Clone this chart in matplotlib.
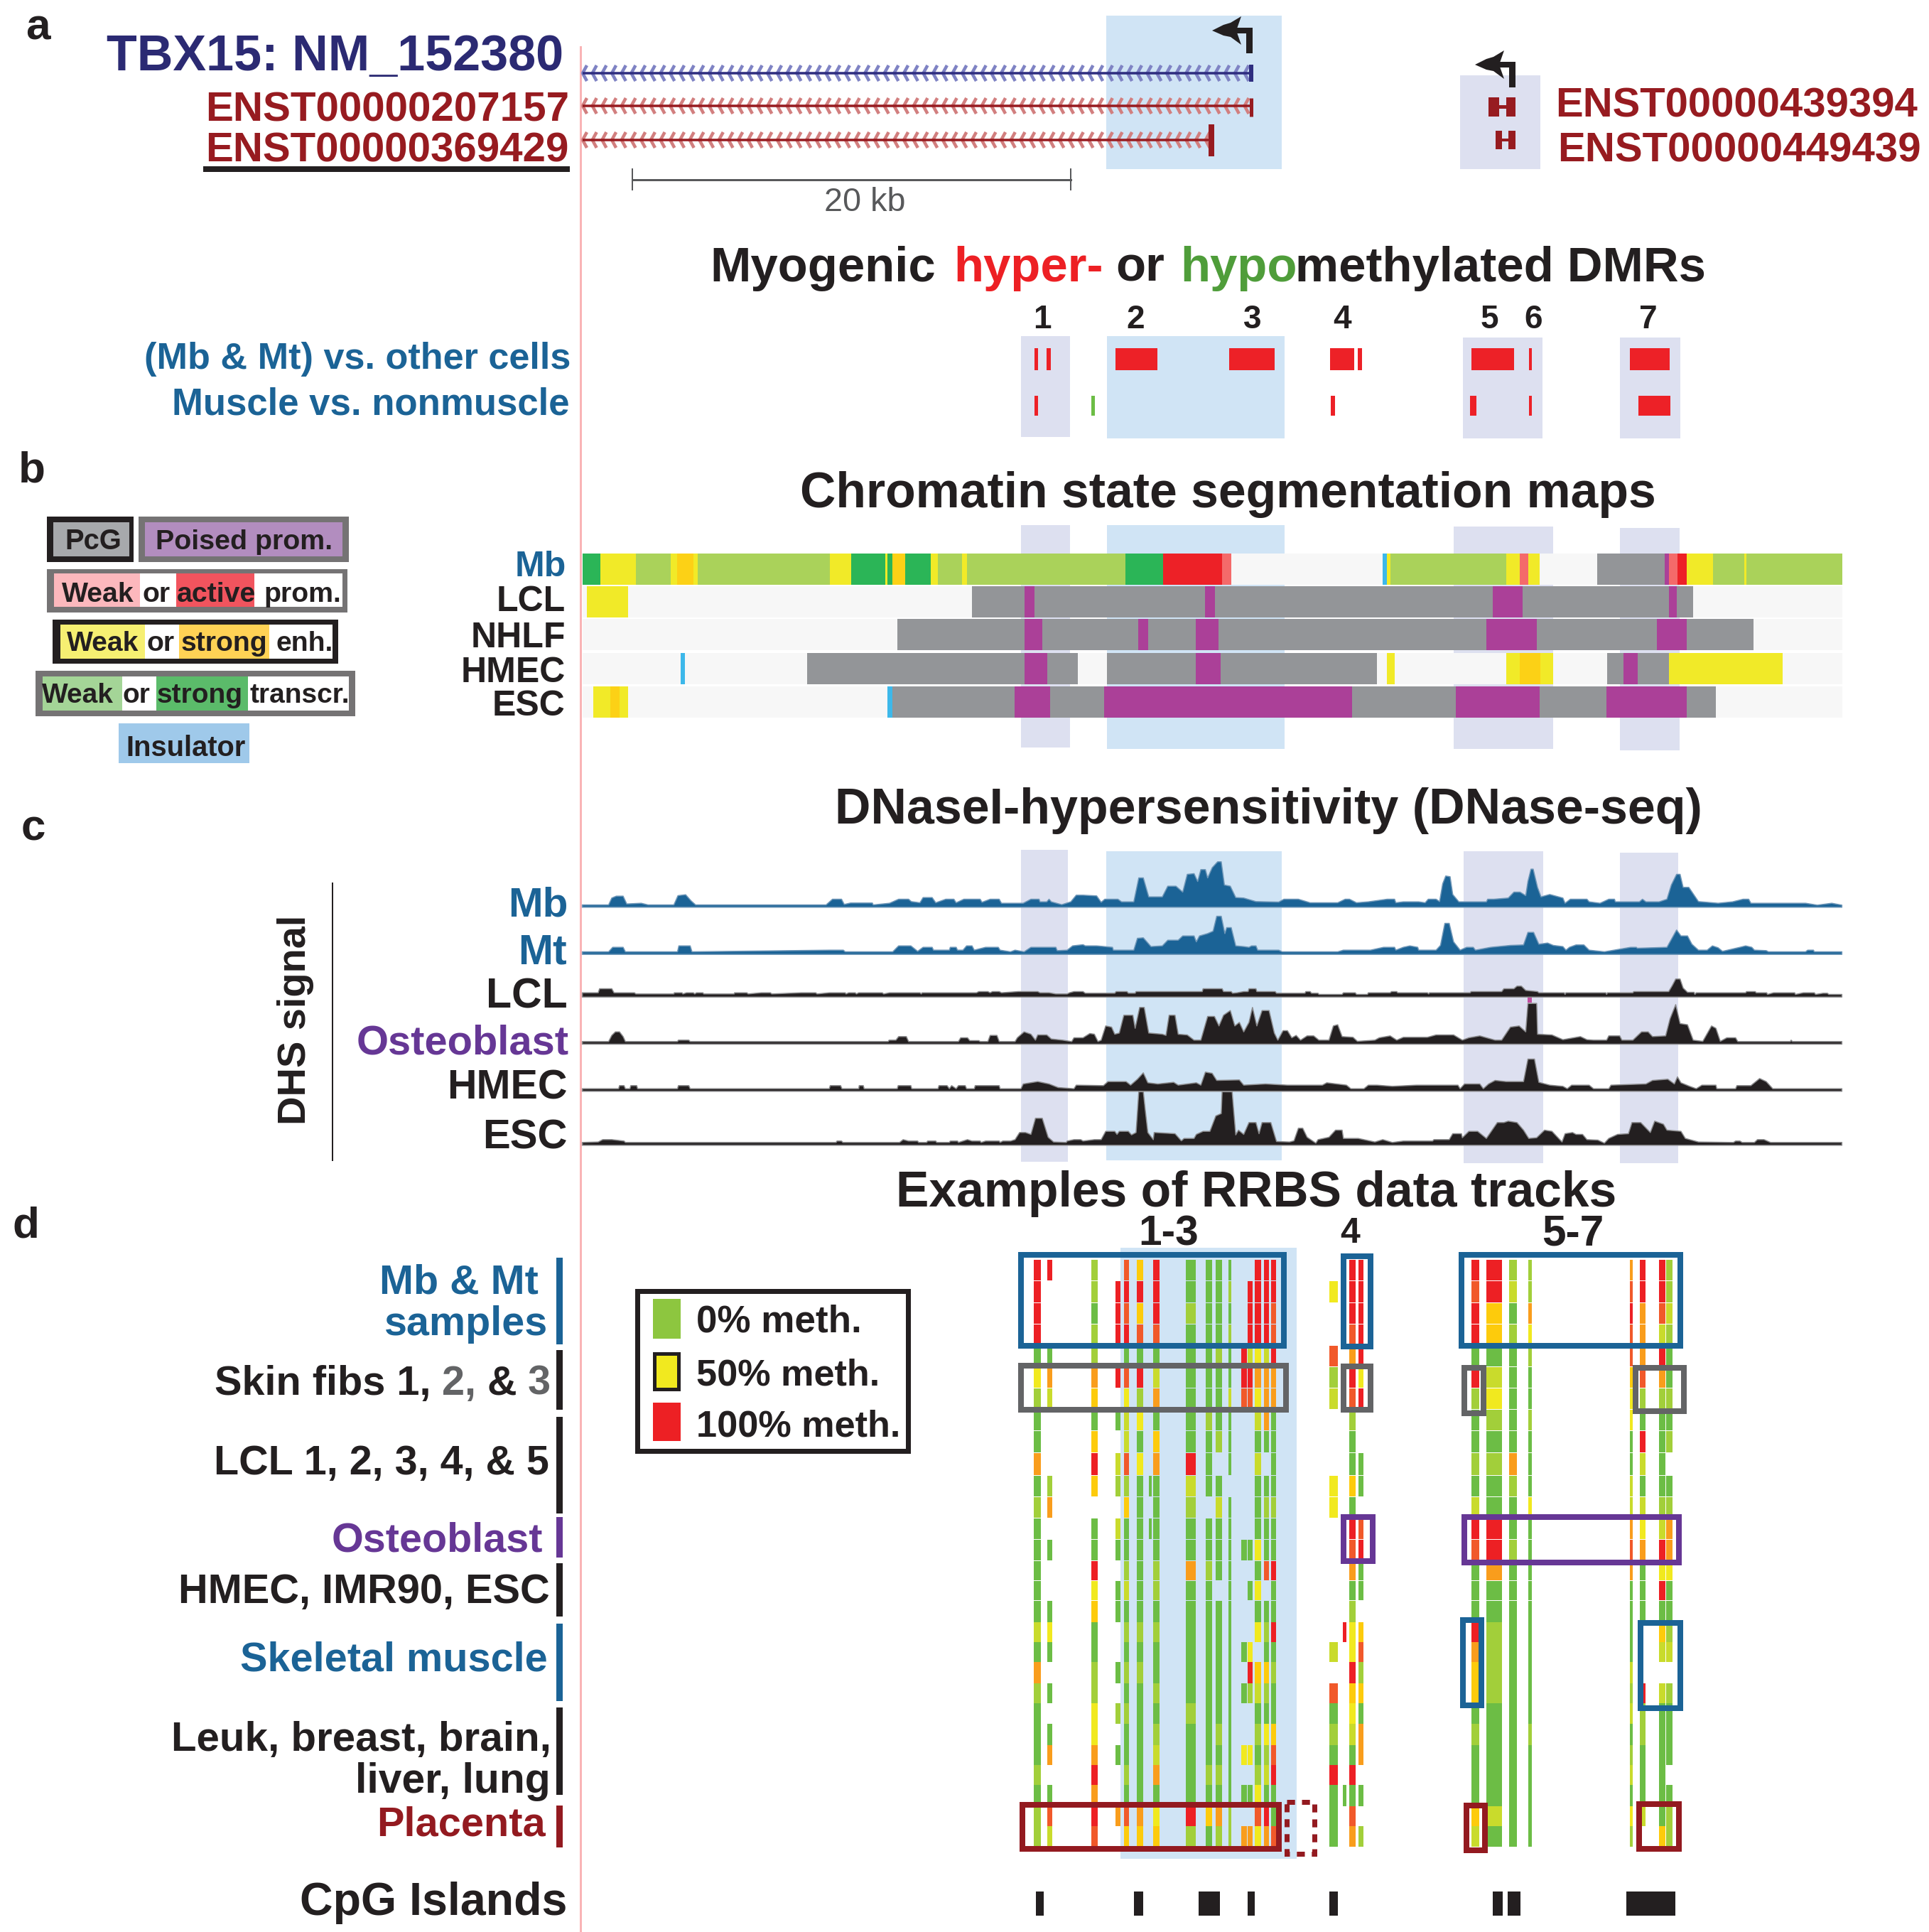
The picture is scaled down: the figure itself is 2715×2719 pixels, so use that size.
# Re-create the TBX15 multi-track figure (genes, DMRs, chromatin, DHS, RRBS)
import matplotlib
matplotlib.use("Agg")
import matplotlib.pyplot as plt
from matplotlib.collections import LineCollection
from matplotlib.font_manager import FontProperties
from matplotlib.patches import Polygon, Rectangle
from matplotlib.textpath import TextPath
import numpy as np

# ------------------ Data: DMRs (track position) ------------------
dmr_numbers = ["1", "2", "3", "4", "5", "6", "7"]
dmr_number_pos = [1467, 1598, 1763, 1889, 2097, 2158, 2320]
dmr_row1 = [(1456, 1461, "r"), (1473, 1479, "r"), (1570, 1629, "r"), (1730, 1794, "r"), (1872, 1906, "r"),
            (1911, 1917, "r"), (2071, 2131, "r"), (2152, 2156, "r"), (2294, 2350, "r")]
dmr_row2 = [(1456, 1461, "r"), (1536, 1541, "g"), (1873, 1879, "r"), (2069, 2078, "r"),
            (2152, 2156, "r"), (2306, 2351, "r")]

# ------------------ Data: chromatin states ------------------
chrom_mb = [(820, 845, "T"), (845, 895, "Y"), (895, 944, "t"), (944, 953, "Y"), (953, 976, "E"), (976, 982, "Y"),
            (982, 1168, "t"), (1168, 1198, "Y"), (1198, 1246, "T"), (1246, 1249, "Y"), (1249, 1256, "T"),
            (1256, 1274, "E"), (1274, 1310, "T"), (1310, 1320, "Y"), (1320, 1354, "t"), (1354, 1361, "Y"),
            (1361, 1584, "t"), (1584, 1637, "T"), (1637, 1720, "R"), (1720, 1733, "S"), (1946, 1952, "I"),
            (1952, 1957, "Y"), (1957, 2120, "t"), (2120, 2139, "Y"), (2139, 2151, "S"), (2151, 2167, "Y"),
            (2248, 2343, "P"), (2343, 2349, "M"), (2349, 2361, "S"), (2361, 2374, "R"), (2374, 2411, "Y"),
            (2411, 2455, "t"), (2455, 2458, "Y"), (2458, 2593, "t")]
chrom_lcl = [(826, 884, "Y"), (1368, 1442, "P"), (1442, 1456, "M"), (1456, 1696, "P"), (1696, 1710, "M"),
             (1710, 2101, "P"), (2101, 2143, "M"), (2143, 2349, "P"), (2349, 2360, "M"), (2360, 2383, "P")]
chrom_nhlf = [(1263, 1442, "P"), (1442, 1467, "M"), (1467, 1602, "P"), (1602, 1616, "M"), (1616, 1683, "P"),
              (1683, 1715, "M"), (1715, 2092, "P"), (2092, 2163, "M"), (2163, 2332, "P"), (2332, 2374, "M"),
              (2374, 2468, "P")]
chrom_hmec = [(958, 964, "I"), (1136, 1442, "P"), (1442, 1474, "M"), (1474, 1517, "P"), (1558, 1683, "P"),
              (1683, 1718, "M"), (1718, 1938, "P"), (1952, 1963, "Y"), (2120, 2139, "Y"), (2139, 2168, "E"),
              (2168, 2186, "Y"), (2262, 2285, "P"), (2285, 2305, "M"), (2305, 2349, "P"), (2349, 2509, "Y")]
chrom_esc = [(835, 859, "Y"), (859, 872, "E"), (872, 884, "Y"), (1249, 1256, "I"), (1256, 1428, "P"),
             (1428, 1478, "M"), (1478, 1554, "P"), (1554, 1903, "M"), (1903, 2049, "P"), (2049, 2167, "M"),
             (2167, 2261, "P"), (2261, 2374, "M"), (2374, 2415, "P")]
chrom_labels = ["Mb", "LCL", "NHLF", "HMEC", "ESC"]

mb_a = [(30,279),(88,279),(95,250),(105,242),(120,242),(128,275),(160,272),(175,279),(232,279),(241,240),(258,236),
        (270,262),(280,279),(568,279),(582,255),(602,255),(608,277),(622,271),(670,271),(672,279),(708,272),(728,255),
        (750,255),(756,265),(775,270),(782,248),(802,248),(810,270),(832,255),(850,255),(855,270),(872,255),(908,255),
        (912,268),(930,255),(950,255),(955,272),(1003,272),(1020,255),(1038,255),(1040,266),(1055,266),(1060,255),
        (1065,266),(1088,278),(1108,266),(1120,238),(1135,238),(1165,241),(1175,268),(1183,255),(1212,255),(1220,266),
        (1247,266),(1258,165),(1268,165),(1280,245),(1310,245),(1322,200),(1340,200),(1355,225),(1365,150),(1380,147),
        (1388,180),(1395,130),(1405,130),(1410,165),(1420,122),(1432,97),(1440,97),(1447,195),(1460,200),(1472,248)]
mb_b = [(0,250),(28,265),(80,267),(92,255),(125,255),(152,270),(215,270),(232,255),(242,255),(258,270),(285,266),
        (328,255),(345,255),(348,270),(365,266),(400,266),(415,270),(422,255),(440,255),(448,265),(455,190),(462,157),
        (472,160),(478,235),(492,266),(555,266),(558,255),(572,255),(605,250),(618,225),(632,225),(645,240),(650,180),
        (657,128),(662,128),(672,205),(680,245),(700,235),(730,250),(735,272),(747,255),(785,255),(790,266),(815,272),
        (835,255),(848,255),(850,266),(905,266),(912,255),(920,266),(950,266),(968,255),(978,195),(990,150),(998,150),
        (1005,205),(1018,205),(1040,265),(1085,272),(1118,266),(1142,255),(1155,255),(1160,272),(1265,272),(1285,272),
        (1312,280),(1345,272),(1368,280)]
mt_a = [(30,477),(88,477),(97,458),(120,458),(125,477),(240,477),(243,452),(268,452),(272,477),(578,470),(606,470),
        (610,477),(715,477),(728,452),(755,452),(770,475),(782,458),(802,458),(805,470),(840,470),(842,458),(855,458),
        (858,470),(870,470),(878,452),(890,452),(895,470),(920,458),(948,458),(952,470),(975,477),(985,470),(1005,477),
        (1020,458),(1045,458),(1075,458),(1078,472),(1100,470),(1112,452),(1135,447),(1140,452),(1165,452),(1200,458),
        (1202,470),(1247,470),(1255,420),(1268,418),(1285,455),(1310,452),(1322,428),(1345,428),(1355,410),(1380,410),
        (1385,435),(1392,410),(1410,400),(1422,390),(1430,327),(1440,327),(1448,400),(1452,375),(1462,375),(1472,452)]
mt_b = [(0,455),(12,458),(18,452),(28,452),(32,470),(80,470),(88,477),(215,477),(228,470),(290,470),(320,458),(345,458),
        (348,470),(365,458),(380,452),(398,458),(400,470),(440,470),(450,450),(460,357),(470,357),(480,435),(495,470),
        (510,458),(525,458),(530,470),(565,458),(610,450),(640,448),(650,395),(663,395),(675,445),(695,440),(708,450),
        (730,455),(737,470),(745,458),(760,448),(778,448),(790,470),(825,477),(885,458),(898,458),(900,462),(968,458),
        (990,385),(1000,410),(1015,410),(1025,445),(1040,470),(1060,470),(1072,452),(1085,460),(1095,475),(1135,458),
        (1148,452),(1162,458),(1168,470),(1195,472),(1200,477),(1285,477),(1290,470),(1303,470),(1305,477),(1368,477)]
lcl_a = [(30,650),(65,650),(68,633),(95,633),(100,650),(145,650),(148,655),(232,655),(233,650),(250,650),(252,655),
         (260,650),(275,650),(278,655),(282,650),(296,650),(298,655),(365,655),(366,650),(393,650),(396,655),(425,650),
         (445,650),(448,655),(513,650),(545,650),(548,655),(575,650),(610,650),(612,655),(618,650),(632,650),(635,655),
         (640,650),(692,650),(695,655),(708,650),(775,650),(778,655),(780,650),(900,650),(905,645),(925,645),(930,650),
         (935,645),(950,645),(955,650),(992,645),(1035,645),(1040,650),(1060,650),(1075,655),(1100,655),(1105,650),
         (1115,645),(1135,645),(1140,652),(1205,652),(1208,645),(1232,645),(1235,652),(1250,652),(1252,645),(1398,645),
         (1400,633),(1442,633),(1445,645),(1462,645),(1465,652),(1475,650)]
lcl_b = [(0,645),(10,645),(12,633),(28,633),(30,645),(72,645),(75,652),(140,652),(142,645),(152,645),(155,652),(170,652),
         (172,657),(225,657),(228,650),(255,650),(258,657),(283,657),(285,650),(335,650),(338,645),(350,645),(352,650),
         (420,650),(423,655),(425,650),(518,650),(520,645),(590,645),(595,633),(618,633),(625,622),(635,622),(645,640),
         (672,645),(675,650),(733,650),(735,657),(737,650),(828,650),(830,657),(832,650),(890,650),(892,645),(972,645),
         (980,620),(988,592),(998,592),(1005,630),(1015,648),(1030,648),(1032,657),(1035,650),(1148,650),(1150,645),
         (1170,645),(1172,650),(1196,650),(1198,657),(1212,650),(1260,650),(1262,657),(1280,650),(1305,650),(1308,657),
         (1325,652),(1335,652),(1338,657),(1368,657)]
ost_a = [(30,856),(88,856),(95,830),(103,815),(112,815),(120,835),(125,856),(240,856),(242,850),(265,850),(268,856),
         (705,856),(707,850),(722,850),(728,835),(745,835),(750,856),(860,856),(865,840),(880,840),(885,852),(905,852),
         (908,856),(925,856),(930,830),(945,830),(950,856),(985,856),(990,840),(1005,815),(1020,825),(1030,850),(1035,828),
         (1055,828),(1065,845),(1090,850),(1110,856),(1115,840),(1135,840),(1150,822),(1160,825),(1168,856),(1175,850),
         (1185,790),(1198,795),(1205,825),(1215,820),(1225,745),(1245,745),(1250,800),(1260,712),(1270,712),(1280,820),
         (1310,825),(1318,830),(1325,745),(1338,745),(1345,825),(1365,828),(1380,850),(1395,850),(1410,750),(1425,750),
         (1435,790),(1445,745),(1460,725),(1470,790),(1480,775)]
ost_b = [(0,815),(12,775),(20,712),(30,790),(42,725),(58,725),(70,820),(78,850),(90,810),(100,810),(110,840),(120,830),
         (130,850),(145,832),(160,832),(172,850),(195,850),(205,790),(215,785),(225,835),(250,838),(260,855),(300,850),
         (310,840),(335,832),(350,850),(365,838),(395,838),(420,838),(440,828),(480,828),(500,850),(515,840),(540,832),
         (575,850),(590,850),(610,795),(630,790),(645,815),(650,695),(670,695),(672,825),(705,828),(730,848),(770,835),
         (785,848),(800,850),(830,850),(835,832),(860,832),(865,850),(890,850),(910,815),(925,815),(935,835),(965,832),
         (975,760),(988,700),(998,780),(1015,785),(1028,850),(1050,855),(1070,790),(1080,800),(1090,855),(1105,840),
         (1125,840),(1130,856),(1250,856),(1252,850),(1255,856),(1368,856)]
hmec_a = [(30,1055),(110,1055),(112,1042),(122,1042),(125,1055),(135,1055),(137,1042),(150,1042),(152,1055),(240,1055),
          (242,1042),(265,1042),(268,1055),(575,1055),(577,1042),(600,1042),(603,1055),(640,1055),(641,1042),(650,1042),
          (652,1055),(725,1055),(727,1042),(755,1042),(757,1055),(815,1055),(817,1042),(835,1042),(840,1055),(845,1042),
          (855,1055),(860,1042),(875,1042),(878,1055),(895,1055),(897,1042),(950,1042),(952,1055),(998,1055),(1003,1035),
          (1035,1025),(1060,1035),(1080,1050),(1115,1055),(1120,1040),(1180,1042),(1190,1025),(1230,1025),(1240,1040),
          (1255,1015),(1268,988),(1278,1030),(1300,1035),(1335,1028),(1345,1040),(1385,1030),(1395,1040),(1405,985),
          (1420,990),(1430,1020),(1480,1018)]
hmec_b = [(0,1040),(50,1035),(100,1040),(180,1040),(190,1030),(235,1040),(245,1055),(275,1055),(285,1040),(305,1040),
          (340,1045),(395,1040),(440,1040),(490,1040),(495,1055),(505,1035),(540,1035),(548,1055),(560,1035),(575,1020),
          (600,1025),(640,1025),(650,930),(665,930),(675,1028),(700,1040),(730,1045),(740,1055),(750,1040),(790,1040),
          (800,1055),(835,1055),(840,1040),(920,1035),(935,1020),(970,1015),(985,1035),(992,1005),(1000,1030),(1020,1045),
          (1035,1055),(1048,1040),(1080,1040),(1082,1055),(1125,1055),(1128,1042),(1160,1042),(1180,1012),(1195,1025),
          (1210,1055),(1368,1055)]
esc_a = [(30,1282),(65,1280),(75,1270),(95,1270),(122,1276),(125,1282),(590,1282),(592,1276),(602,1276),(605,1282),
         (730,1282),(738,1270),(750,1276),(770,1276),(772,1282),(790,1282),(792,1276),(810,1276),(812,1282),(840,1282),
         (842,1276),(858,1276),(860,1282),(870,1276),(880,1270),(890,1276),(908,1276),(910,1282),(920,1276),(950,1276),
         (952,1282),(958,1276),(975,1276),(985,1270),(995,1240),(1008,1240),(1020,1248),(1030,1180),(1045,1180),(1058,1260),
         (1070,1280),(1098,1282),(1100,1276),(1115,1270),(1130,1270),(1135,1276),(1160,1270),(1175,1270),(1185,1235),
         (1205,1235),(1210,1248),(1215,1235),(1235,1235),(1242,1250),(1252,1240),(1258,1068),(1268,1068),(1272,1140),
         (1278,1240),(1290,1270),(1292,1240),(1338,1245),(1352,1275),(1358,1265),(1380,1265),(1385,1248),(1400,1235),
         (1415,1235),(1428,1170),(1440,1160),(1442,1068),(1464,1068),(1468,1160),(1472,1250),(1478,1230)]
esc_b = [(0,1248),(12,1198),(28,1198),(35,1245),(42,1198),(62,1198),(75,1278),(105,1280),(115,1275),(125,1222),(135,1222),
         (145,1260),(165,1285),(170,1270),(195,1260),(210,1230),(225,1230),(228,1265),(262,1265),(300,1280),(318,1270),
         (340,1282),(365,1276),(432,1276),(435,1270),(470,1270),(478,1245),(498,1245),(500,1262),(515,1235),(535,1235),
         (555,1265),(580,1198),(595,1198),(605,1192),(625,1198),(640,1230),(652,1265),(670,1262),(688,1230),(705,1235),
         (728,1280),(735,1245),(752,1240),(760,1248),(775,1248),(785,1270),(810,1272),(825,1285),(835,1265),(855,1248),
         (880,1245),(888,1198),(908,1198),(930,1240),(940,1192),(960,1205),(968,1230),(1000,1235),(1010,1265),(1040,1280),
         (1120,1282),(1125,1276),(1135,1276),(1140,1282),(1168,1282),(1175,1270),(1190,1270),(1205,1282),(1368,1282)]
dhs_labels = ["Mb", "Mt", "LCL", "Osteoblast", "HMEC", "ESC"]

# ------------------ Data: RRBS, one call per sample row ------------------
rrbs_row_tops = [1773, 1803, 1834, 1864, 1894, 1924, 1954, 1984, 2014, 2045, 2077, 2107, 2137, 2167, 2197, 2225,
                 2253, 2283, 2311, 2339, 2369, 2397, 2426, 2456, 2484, 2512, 2542, 2570, 2599]
rrbs_starts = [1455, 1474, 1536, 1570, 1582, 1600, 1617, 1623, 1669, 1697, 1711, 1729, 1747, 1756, 1766, 1779, 1789,
               1871, 1890, 1899, 1912, 2071, 2092, 2124, 2151, 2294, 2308, 2335, 2345]
rrbs_ends = [1465, 1481, 1545, 1577, 1589, 1609, 1621, 1632, 1683, 1706, 1720, 1733, 1755, 1763, 1775, 1786, 1796,
             1883, 1895, 1908, 1919, 2082, 2114, 2135, 2156, 2298, 2316, 2344, 2354]
rrbs_calls = [
    "RRRRGYgGGoGgGGGGGlGogGGGgGgg",
    "R...Gol...go.G..GYG.G.Go.GOl",
    "ggGggoaGaRa.GGRYaGGggYYoRoRO",
    ".RRR.R.G.lg.lG.GG..G.g.G..o.",
    "ORORGOYllOgaGGglGgGgGgGGgGOa",
    "aRaOGRgYGYGGGGGGGgGgGGGGGGoa",
    "..........G.G...............",
    "RRROGloGaoGGGGggGgGGgGgloGYa",
    "GGgGGGGGGRlgGGoGGGGGGgGGGGRg",
    "GGGGGGGgGGG.GGgGGGGGGGGGgGaG",
    "GGGGgGGGg.GlGGG.GGGGGGgGgGog",
    "GgGgGGlGGG.GGGGGGGGGGGGGGGgg",
    "....RRO......G....G.G..Y.G.o",
    ".RRRlRO......G.G..YRg..Y.G.o",
    "RRRRYoYlGlGGGYGYGY.alGgGgYOY",
    "RRRRloooG.GgGGO.GgGagGYglGRo",
    "RROORooGGGGgGGRGGRGgGGaORGGO",
    ".Y..Ogl...YY......l.OGgGRGGG",
    ".................R.......G..",
    "RRROoROgGGaGROoGgYYRaYlGRGOo",
    "RRRRRYR..GG.ORGG.aOgaGoo.G.g",
    "RORRGRgGGgGlROGGGRoaaGgGGGal",
    "RRaaGlYgGgGGRRoGGggggGGGGGlG",
    "glGgGGGGGogGGgGGGGGGGGGGGGGG",
    "ggoYgGGgGGGYGGGGGGGGGGgGGGGG",
    "oOROOaYYGGlloOoGGGGlglGglGYg",
    "RRoooOgGRlGlYoGGG...RggGGGl.",
    "RROlRogGGGGglRYRGal.lGGGGGGa",
    "gglgGGgGg.GgooYGGgl.gGGG.Ggg",
]
cpg_starts = [1458, 1596, 1687, 1756, 1871, 2101, 2122, 2289]
cpg_ends = [1469, 1609, 1717, 1766, 1883, 2115, 2140, 2358]

# ------------------ Colours ------------------
INK = "#231f20"
BLUE = "#1b6396"
PURPLE = "#663795"
GRAY = "#636466"
DARKRED = "#931a20"
ENST = "#971b20"
LAV = "#dde0f0"
SKY = "#d0e4f5"
state_colors = {"T": "#2bb557", "t": "#aad25a", "Y": "#f1ea28", "E": "#fcd116", "R": "#ed2127", "S": "#f46a6a",
                "P": "#939598", "M": "#ab4098", "I": "#3db8ea", "r": "#ed2127", "g": "#6cbd45"}
meth_colors = {"R": "#ed2024", "O": "#f1592a", "o": "#f99d1c", "a": "#fdcb0c", "Y": "#f1e91f",
               "l": "#c9db2c", "g": "#a2cf3a", "G": "#6cbd45"}

# ------------------ Canvas, units are reference pixels ------------------
fig = plt.figure(figsize=(27.15, 27.19), dpi=100)
ax = fig.add_axes([0, 0, 1, 1])
ax.set_xlim(0, 2715)
ax.set_ylim(2719, 0)
ax.axis("off")


def px(w):
    return w * 0.72


def box(x0, x1, y0, y1, color, z=1):
    ax.add_patch(Rectangle((x0, y0), x1 - x0, y1 - y0, facecolor=color, edgecolor="none", zorder=z))


def frame(x0, x1, y0, y1, color, lw=8, ls="-", z=6):
    ax.add_patch(Rectangle((x0 + lw / 2, y0 + lw / 2), x1 - x0 - lw, y1 - y0 - lw, fill=False, edgecolor=color,
                           linewidth=px(lw), linestyle=ls, zorder=z, joinstyle="miter"))


def em_width(s, weight="bold"):
    fp = FontProperties(family="Liberation Sans", weight=weight)
    return TextPath((0, 0), s, size=1, prop=fp).get_extents().width


def put(s, x0, yc, size, color=INK, weight="bold", rotation=0):
    ax.text(x0, yc + 0.358 * size, s, fontsize=px(size), color=color, family="Liberation Sans", weight=weight,
            ha="left", va="baseline", rotation=rotation, zorder=8)


def fit(s, x0, x1, yc, color=INK, weight="bold"):
    put(s, x0, yc, (x1 - x0) / em_width(s, weight), color, weight)


def runs(parts, starts, x1, yc, colors):
    # one size for the whole line, fragments sit at their own start
    size = (x1 - starts[0]) / em_width(" ".join(parts))
    for s, x0, c in zip(parts, starts, colors):
        put(s, x0, yc, size, c)


def segments(rows, y0, y1, palette, z=3):
    for s, e, k in rows:
        ax.bar(s, y1 - y0, width=e - s, bottom=y0, align="edge", color=palette[k], linewidth=0, zorder=z)


# ------------------ Shaded regions ------------------
for x0, x1, y0, y1, c in [
    (1557, 1804, 22, 238, SKY), (2055, 2168, 106, 238, LAV),
    (1437, 1506, 473, 615, LAV), (1558, 1808, 473, 617, SKY), (2059, 2171, 475, 617, LAV), (2280, 2365, 475, 617, LAV),
    (1437, 1506, 739, 1052, LAV), (1558, 1808, 739, 1054, SKY), (2046, 2186, 741, 1054, LAV), (2280, 2364, 743, 1056, LAV),
    (1437, 1503, 1196, 1635, LAV), (1557, 1804, 1198, 1633, SKY), (2060, 2172, 1198, 1637, LAV), (2280, 2362, 1200, 1637, LAV),
    (1577, 1825, 1756, 2616, SKY),
]:
    box(x0, x1, y0, y1, c)
box(815.5, 818.5, 65, 2719, "#f9b4b6", z=2)

# ------------------ Panel letters ------------------
for s, x, y in [("a", 36, 33), ("b", 26, 656), ("c", 30, 1160), ("d", 18, 1719)]:
    put(s, x, y, 62, INK)

# ------------------ a: gene models ------------------
genes = [(103, 1761, "#7f83c4", "#2e2d7f", 91, 115, 6), (149, 1761, "#d27f7f", ENST, 138, 164, 5),
         (197, 1705, "#d27f7f", ENST, 175, 220, 8)]
for y, end, light, dark, t0, t1, tw in genes:
    chev = [[(x + 6, y - 11), (x, y), (x + 6, y + 11)] for x in np.arange(820, end - 4, 13.7)]
    ax.add_collection(LineCollection(chev, colors=light, linewidths=px(4.5), zorder=3))
    ax.plot([820, end], [y, y], color=dark, lw=px(3.5), solid_capstyle="butt", zorder=4)
    ax.plot([end, end], [t0, t1], color=dark, lw=px(tw), solid_capstyle="butt", zorder=4)
for dx, dy in [(0, 0), (370, 48)]:
    head = [(1706, 43), (1722, 35), (1732, 32), (1747, 23), (1740, 43), (1747, 63), (1732, 52), (1722, 50)]
    ax.add_patch(Polygon([(x + dx, y + dy) for x, y in head], facecolor=INK, edgecolor="none", zorder=5))
    box(1735 + dx, 1763 + dx, 39 + dy, 47 + dy, INK, z=5)
    box(1754 + dx, 1763 + dx, 39 + dy, 75 + dy, INK, z=5)
for x0, x1, y0, y1 in [(2095, 2110, 137, 164), (2120, 2133, 137, 164), (2105, 2114, 184, 210), (2123, 2133, 184, 210)]:
    box(x0, x1, y0, y1, ENST, z=4)
box(2095, 2133, 148, 153, ENST, z=4)
box(2105, 2133, 195, 199, ENST, z=4)

fit("TBX15: NM_152380", 150, 790, 74, "#2b2a73")
fit("ENST00000207157", 289, 795, 150, ENST)
fit("ENST00000369429", 289, 795, 207, ENST)
box(286, 802, 234, 242, INK)
fit("ENST00000439394", 2189, 2694, 144, ENST)
fit("ENST00000449439", 2192, 2698, 207, ENST)
ax.plot([890, 1507], [253, 253], color="#58595b", lw=px(3), zorder=4)
ax.plot([890, 890], [238, 267], color="#58595b", lw=px(2), zorder=4)
ax.plot([1507, 1507], [238, 267], color="#58595b", lw=px(2), zorder=4)
fit("20 kb", 1160, 1270, 280, "#58595b", "normal")

# ------------------ DMRs ------------------
runs(["Myogenic", "hyper-", "or", "hypo", "methylated DMRs"], [999, 1342, 1570, 1661, 1823], 2407, 371,
     [INK, "#ed2024", INK, "#4f9d3a", INK])
for s, x in zip(dmr_numbers, dmr_number_pos):
    put(s, x - 13, 446, 46, INK)
fit("(Mb & Mt) vs. other cells", 203, 800, 500, BLUE)
fit("Muscle vs. nonmuscle", 242, 796, 565, BLUE)
segments(dmr_row1, 490, 521, state_colors)
segments(dmr_row2, 557, 585, state_colors)

# ------------------ b: chromatin legend ------------------
box(66, 188, 727, 791, INK, 2)
box(75, 182, 735, 783, "#a7a9ac", 3)
box(195, 491, 727, 791, "#757374", 2)
box(204, 482, 735, 783, "#b28dbf", 3)
box(66, 489, 801, 862, "#757374", 2)
box(76, 482, 807, 854, "white", 3)
box(76, 197, 807, 854, "#fcb8bd", 4)
box(248, 358, 807, 854, "#f1545e", 4)
box(74, 476, 872, 934, INK, 2)
box(85, 468, 879, 927, "white", 3)
box(85, 204, 879, 927, "#f6ef72", 4)
box(252, 379, 879, 927, "#ffd255", 4)
box(50, 500, 944, 1008, "#757374", 2)
box(60, 491, 952, 1000, "white", 3)
box(60, 172, 952, 1000, "#a4d597", 4)
box(220, 349, 952, 1000, "#5bbb6a", 4)
box(167, 351, 1018, 1074, "#9fc9ea", 2)
fit("PcG", 91, 166, 759, INK)
fit("Poised prom.", 219, 463, 759, INK)
runs(["Weak", "or", "active", "prom."], [87, 201, 249, 371], 479, 833, [INK] * 4)
runs(["Weak", "or", "strong", "enh."], [94, 206, 255, 389], 467, 902, [INK] * 4)
runs(["Weak", "or", "strong", "transcr."], [59, 172, 221, 351], 490, 975, [INK] * 4)
fit("Insulator", 177, 342, 1050, INK)

# ------------------ b: chromatin tracks ------------------
fit("Chromatin state segmentation maps", 1126, 2324, 689, INK)
chrom_tracks = [chrom_mb, chrom_lcl, chrom_nhlf, chrom_hmec, chrom_esc]
chrom_y = [(779, 823), (825, 869), (871, 915), (919, 963), (966, 1010)]
chrom_label_y = [793, 842, 893, 942, 989]
for rows, (y0, y1), name, ly in zip(chrom_tracks, chrom_y, chrom_labels, chrom_label_y):
    box(820, 2593, y0, y1, "#f7f7f7", z=2)
    segments(rows, y0, y1, state_colors)
    put(name, 791 - em_width(name) * 50, ly, 50, BLUE if name == "Mb" else INK)

# ------------------ c: DHS tracks ------------------
fit("DNaseI-hypersensitivity (DNase-seq)", 1175, 2388, 1134, INK)
dhs_sets = [(mb_a, mb_b, 289), (mt_a, mt_b, 488), (lcl_a, lcl_b, 668), (ost_a, ost_b, 867), (hmec_a, hmec_b, 1066),
            (esc_a, esc_b, 1294)]
dhs_colors = [BLUE, BLUE, INK, INK, INK, INK]
dhs_edges = ["#6f97b8", "#6f97b8", "#8a8a8c", "#8a8a8c", "#8a8a8c", "#8a8a8c"]
dhs_label_y = [1269, 1335, 1397, 1463, 1526, 1596]
dhs_label_x = [715, 729, 684, 502, 629, 679]
dhs_label_c = [BLUE, BLUE, INK, PURPLE, INK, INK]
box(2150, 2156, 1403, 1411, "#c14fa0", z=4)
for (a, b, base), c, e, name, ly, lx, lc in zip(dhs_sets, dhs_colors, dhs_edges, dhs_labels, dhs_label_y, dhs_label_x,
                                                dhs_label_c):
    left = np.array(a, dtype=float)
    right = np.array(b, dtype=float)
    xs = np.concatenate([800 + left[:, 0] / 1.568, 1750 + right[:, 0] / 1.625])
    ys = np.concatenate([1180 + left[:, 1] / 3, 1180 + right[:, 1] / 3])
    ax.fill_between(xs, ys, 1180 + base / 3, color=c, edgecolor=e, linewidth=px(1.5), zorder=5)
    fit(name, lx, 798 if name == "Osteoblast" else 793, ly, lc)
ax.plot([467.5, 467.5], [1243, 1633], color=INK, lw=px(2), zorder=4)
ax.text(416, 1435, "DHS signal", rotation=90, ha="center", va="center", fontsize=px(56), color=INK,
        family="Liberation Sans", weight="bold", zorder=8)

# ------------------ d: RRBS ------------------
fit("Examples of RRBS data tracks", 1261, 2268, 1673, INK)
fit("1-3", 1602, 1681, 1731, INK)
put("4", 1886, 1731, 50, INK)
fit("5-7", 2170, 2253, 1731, INK)
for s0, s1, calls in zip(rrbs_starts, rrbs_ends, rrbs_calls):
    for r, k in enumerate(calls):
        if k == ".":
            continue
        y0, y1 = rrbs_row_tops[r], rrbs_row_tops[r + 1]
        ax.bar(s0, y1 - y0 - (1 if r < 16 else 0), width=s1 - s0, bottom=y0, align="edge", color=meth_colors[k],
               linewidth=0, zorder=3)

for x0, x1, y0, y1, c in [
    (1433, 1811, 1762, 1898, BLUE), (1433, 1814, 1918, 1988, GRAY), (1435, 1804, 2536, 2606, DARKRED),
    (1887, 1933, 1764, 1899, BLUE), (1887, 1933, 1919, 1988, GRAY), (1887, 1936, 2131, 2201, PURPLE),
    (2053, 2369, 1762, 1898, BLUE), (2057, 2092, 1921, 1993, GRAY), (2298, 2374, 1921, 1990, GRAY),
    (2057, 2367, 2131, 2203, PURPLE), (2055, 2089, 2276, 2404, BLUE), (2305, 2369, 2280, 2408, BLUE),
    (2060, 2094, 2537, 2608, DARKRED), (2303, 2367, 2535, 2606, DARKRED),
]:
    frame(x0, x1, y0, y1, c)
frame(1807, 1853, 2532, 2612, DARKRED, lw=7, ls=(0, (1.6, 1.4)))

# sample labels with their side bars
for y0, y1, c in [(1770, 1892, BLUE), (1900, 1984, INK), (1994, 2130, INK), (2135, 2192, PURPLE), (2200, 2275, INK),
                  (2285, 2394, BLUE), (2403, 2526, INK), (2541, 2600, DARKRED)]:
    box(783, 792, y0, y1, c)
fit("Mb & Mt", 534, 753, 1800, BLUE)
fit("samples", 541, 767, 1858, BLUE)
runs(["Skin fibs 1,", "2,", "&", "3"], [302, 622, 686, 743], 772, 1942, [INK, GRAY, INK, GRAY])
fit("LCL 1, 2, 3, 4, & 5", 301, 767, 2054, INK)
fit("Osteoblast", 467, 761, 2163, PURPLE)
fit("HMEC, IMR90, ESC", 251, 769, 2235, INK)
fit("Skeletal muscle", 338, 767, 2331, BLUE)
fit("Leuk, breast, brain,", 241, 767, 2443, INK)
fit("liver, lung", 500, 767, 2502, INK)
fit("Placenta", 530, 764, 2563, DARKRED)
fit("CpG Islands", 422, 793, 2672, INK)

# methylation key
frame(893, 1281, 1813, 2045, INK, lw=7)
box(919, 958, 1828, 1884, "#8dc63f")
box(919, 958, 1903, 1958, INK)
box(924, 953, 1908, 1953, "#f1e91f", z=2)
box(919, 958, 1974, 2028, "#ed2024")
fit("0% meth.", 980, 1207, 1856, INK)
fit("50% meth.", 980, 1233, 1931, INK)
fit("100% meth.", 980, 1261, 2003, INK)

# CpG islands
for s, e in zip(cpg_starts, cpg_ends):
    ax.bar(s, 34, width=e - s, bottom=2662, align="edge", color=INK, linewidth=0, zorder=3)

fig.savefig("out.png", dpi=100)
